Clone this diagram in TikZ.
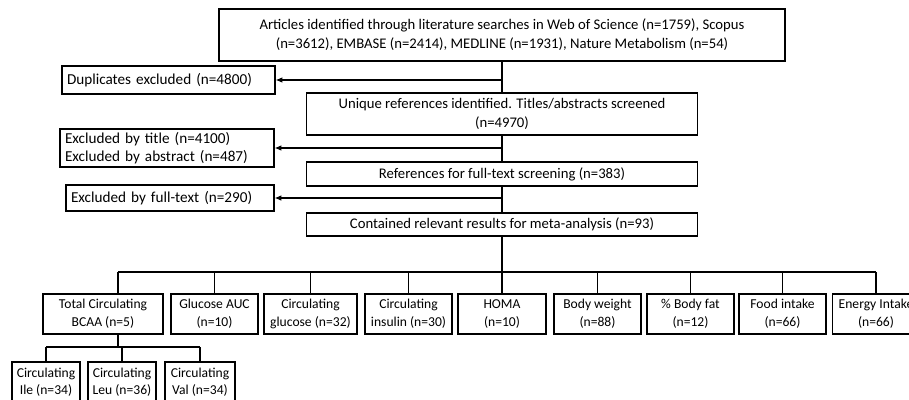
\documentclass[tikz,border=0pt]{standalone}
\usepackage{fontspec}
\setmainfont{Carlito}
\usetikzlibrary{arrows.meta,calc,positioning}
\definecolor{ink}{HTML}{000000}

\begin{document}
\begin{tikzpicture}[
  x=1pt,y=-1pt,
  font=\fontsize{14.7}{19}\selectfont,
  link/.style={draw=ink,line width=1.2pt},
  arrow/.style={-{Latex[length=2.4mm,width=2mm]},line width=1.2pt,draw=ink},
  stage/.style={rectangle,draw=ink,line width=1.2pt,fill=white,inner sep=0pt,
                align=center,text=ink},
  excluded/.style={rectangle,draw=ink,line width=1.2pt,fill=white,inner xsep=5pt,
                   inner ysep=0pt,align=left,text=ink,
                   font=\fontsize{15.2}{18}\selectfont},
  outcome/.style={rectangle,draw=ink,line width=1.2pt,fill=white,inner sep=0pt,
                  align=center,text=ink,minimum height=40pt,
                  font=\fontsize{13.6}{18}\selectfont},
  suboutcome/.style={outcome,font=\fontsize{13.6}{16.5}\selectfont}
]

\useasboundingbox (0,0) rectangle (909,399);

% -------------------------------------------------------------------------
% Screening stages.
\node[stage,minimum width=566pt,minimum height=52pt] (art) at (502,35)
  {Articles identified through literature searches in Web of Science (n=1759), Scopus\\
   (n=3612), EMBASE (n=2414), MEDLINE (n=1931), Nature Metabolism (n=54)};
\node[stage,minimum width=391pt,minimum height=42pt] (uniq) at (502,114)
  {Unique references identified. Titles/abstracts screened\\(n=4970)};
\node[stage,minimum width=391pt,minimum height=24pt] (refs) at (502,174)
  {References for full-text screening (n=383)};
\node[stage,minimum width=391pt,minimum height=23pt] (cont) at (502,224.5)
  {Contained relevant results for meta-analysis (n=93)};
\draw[link] (art) -- (uniq) (uniq) -- (refs) (refs) -- (cont);

% Exclusions.
\node[excluded,text width=203pt,minimum height=28pt] (dup) at (168.5,80)
  {Duplicates excluded (n=4800)};
\node[excluded,text width=204pt,minimum height=38pt] (ttl) at (167,148)
  {Excluded by title (n=4100)\\Excluded by abstract (n=487)};
\node[excluded,text width=198pt,minimum height=26pt] (full) at (170,198)
  {Excluded by full-text (n=290)};

\coordinate (t1) at (502,80);
\coordinate (t2) at (502,148);
\coordinate (t3) at (502,198);
\draw[arrow] (t1) -- (dup);
\draw[arrow] (t2) -- (ttl);
\draw[arrow] (t3) -- (full);

% -------------------------------------------------------------------------
% Outcomes.
\node[outcome,minimum width=120pt] (tot) at (103,314) {Total Circulating\\BCAA (n=5)};
\node[outcome,minimum width=87pt] (auc) at (214.5,314) {Glucose AUC\\(n=10)};
\node[outcome,minimum width=93pt] (glu) at (310.5,314) {Circulating\\glucose (n=32)};
\node[outcome,minimum width=87pt] (ins) at (408.5,314) {Circulating\\insulin (n=30)};
\node[outcome,minimum width=88pt] (homa) at (502,314) {HOMA\\(n=10)};
\node[outcome,minimum width=87pt] (bw) at (597.5,314) {Body weight\\(n=88)};
\node[outcome,minimum width=87pt] (fat) at (690.5,314) {\% Body fat\\(n=12)};
\node[outcome,minimum width=87pt] (food) at (782.5,314) {Food intake\\(n=66)};
\node[outcome,minimum width=87pt] (en) at (876,314) {Energy Intake\\(n=66)};

\coordinate (bus) at (502,272);
\coordinate (busL) at (118,272);
\draw[link] (cont) -- (bus);
\draw[link] (busL) -- (bus -| en);
\draw[link] (busL) -- (busL |- tot.north)
  (auc.north |- bus) -- (auc.north) (glu.north |- bus) -- (glu.north)
  (ins.north |- bus) -- (ins.north) (homa.north |- bus) -- (homa.north)
  (bw.north |- bus) -- (bw.north) (fat.north |- bus) -- (fat.north)
  (food.north |- bus) -- (food.north) (en.north |- bus) -- (en.north);

% BCAA split.
\node[suboutcome,minimum width=68pt] (ile) at (46,382) {Circulating\\Ile (n=34)};
\node[suboutcome,minimum width=68pt] (leu) at (122,382) {Circulating\\Leu (n=36)};
\node[suboutcome,minimum width=70pt] (val) at (200,382) {Circulating\\Val (n=34)};

\coordinate (sub) at (118,347);
\draw[link] (busL |- tot.south) -- (sub);
\draw[link] (sub -| ile) -- (sub -| val)
  (sub -| ile) -- (ile.north) (sub -| leu) -- (leu.north) (sub -| val) -- (val.north);

\end{tikzpicture}
\end{document}
